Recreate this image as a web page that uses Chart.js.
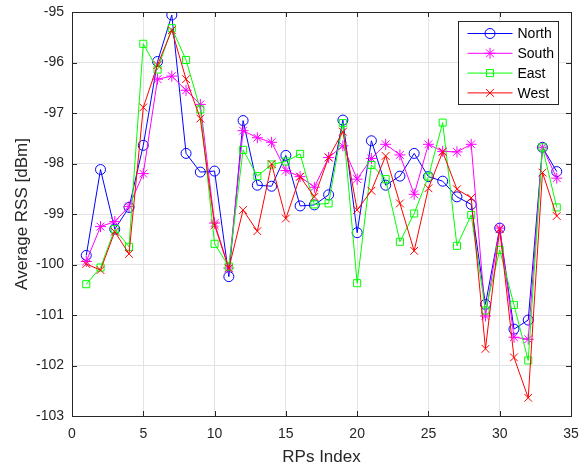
<!DOCTYPE html>
<html>
<head>
<meta charset="utf-8">
<script src="https://cdn.jsdelivr.net/npm/chart.js@4/dist/chart.umd.min.js"></script>
<style>
  html, body { margin: 0; padding: 0; background: #ffffff; }
  #wrap { width: 584px; height: 468px; }
</style>
</head>
<body>
<div id="wrap"><canvas id="c" width="584" height="468"></canvas></div>
<script>
const rpIndex = [1,2,3,4,5,6,7,8,9,10,11,12,13,14,15,16,17,18,19,20,21,22,23,24,25,26,27,28,29,30,31,32,33,34];
const seriesNames = ['North', 'South', 'East', 'West'];
const north = [-99.82,-98.12,-99.30,-98.87,-97.64,-95.98,-95.06,-97.80,-98.17,-98.15,-100.24,-97.15,-98.43,-98.45,-97.84,-98.84,-98.82,-98.62,-97.14,-99.37,-97.55,-98.43,-98.25,-97.80,-98.26,-98.35,-98.66,-98.81,-100.79,-99.28,-101.28,-101.10,-97.68,-98.16];
const south = [-99.94,-99.25,-99.15,-98.85,-98.20,-96.33,-96.27,-96.55,-96.83,-99.18,-100.07,-97.35,-97.49,-97.58,-98.14,-98.26,-98.47,-97.88,-97.65,-98.31,-97.90,-97.62,-97.83,-98.61,-97.62,-97.76,-97.77,-97.62,-101.02,-99.28,-101.44,-101.48,-97.68,-98.29];
const east  = [-100.39,-100.06,-99.30,-99.65,-95.63,-96.14,-95.32,-95.95,-96.93,-99.59,-100.04,-97.73,-98.25,-98.02,-97.96,-97.81,-98.81,-98.79,-97.20,-100.37,-98.03,-98.31,-99.55,-98.99,-98.26,-97.19,-99.63,-99.02,-100.91,-99.71,-100.80,-101.90,-97.68,-98.87];
const west  = [-99.99,-100.11,-99.35,-99.79,-96.89,-96.05,-95.36,-96.33,-97.11,-99.22,-100.08,-98.92,-99.34,-98.01,-99.09,-98.26,-98.66,-97.88,-97.37,-98.92,-98.54,-97.85,-98.79,-99.73,-98.49,-97.77,-98.51,-98.68,-101.67,-99.30,-101.84,-102.64,-98.18,-99.04];
const xTicks = [0,5,10,15,20,25,30,35];
const yTicks = [-103,-102,-101,-100,-99,-98,-97,-96,-95];

const colors = ['#0000ff', '#ff00ff', '#00ff00', '#ff0000'];
const styles = ['circle', 'star', 'rect', 'crossRot'];
const radii = [5, 5.5, 5, 5.5];
const values = [north, south, east, west];

const FONT = "'Liberation Sans', Arial, Helvetica, sans-serif";
const TXT = '#262626';

const datasets = values.map((v, i) => ({
  label: seriesNames[i],
  data: rpIndex.map((x, k) => ({ x: x, y: v[k] })),
  borderColor: colors[i],
  backgroundColor: 'rgba(0,0,0,0)',
  pointBorderColor: colors[i],
  pointBackgroundColor: 'rgba(0,0,0,0)',
  pointStyle: styles[i],
  pointRadius: radii[i],
  pointBorderWidth: 1,
  borderWidth: 1,
  tension: 0,
  order: 4 - i
}));

function drawMarker(ctx, style, r, x, y) {
  ctx.beginPath();
  if (style === 'circle') {
    ctx.arc(x, y, r, 0, Math.PI * 2);
  } else if (style === 'rect') {
    const s = r * Math.SQRT1_2;
    ctx.rect(x - s, y - s, 2 * s, 2 * s);
  } else if (style === 'crossRot' || style === 'star') {
    const d = r * Math.SQRT1_2;
    ctx.moveTo(x - d, y - d); ctx.lineTo(x + d, y + d);
    ctx.moveTo(x - d, y + d); ctx.lineTo(x + d, y - d);
    if (style === 'star') {
      ctx.moveTo(x - r, y); ctx.lineTo(x + r, y);
      ctx.moveTo(x, y - r); ctx.lineTo(x, y + r);
    }
  }
  ctx.stroke();
}

const framePlugin = {
  id: 'frame',
  afterDraw(chart) {
    const ctx = chart.ctx;
    const a = chart.chartArea;
    const xs = chart.scales.x, ys = chart.scales.y;
    ctx.save();
    ctx.strokeStyle = TXT;
    ctx.lineWidth = 1;
    ctx.beginPath();
    ctx.rect(Math.round(a.left) + 0.5, Math.round(a.top) + 0.5, Math.round(a.right - a.left), Math.round(a.bottom - a.top));
    ctx.stroke();
    const tl = 5;
    ctx.beginPath();
    xTicks.forEach(t => {
      const px = Math.round(xs.getPixelForValue(t)) + 0.5;
      ctx.moveTo(px, a.bottom); ctx.lineTo(px, a.bottom - tl);
      ctx.moveTo(px, a.top); ctx.lineTo(px, a.top + tl);
    });
    yTicks.forEach(t => {
      const py = Math.round(ys.getPixelForValue(t)) + 0.5;
      ctx.moveTo(a.left, py); ctx.lineTo(a.left + tl, py);
      ctx.moveTo(a.right, py); ctx.lineTo(a.right - tl, py);
    });
    ctx.stroke();

    const bw = 100, bh = 83;
    const bx = Math.round(a.right - 13 - bw) + 0.5;
    const by = Math.round(a.top + 9) + 0.5;
    ctx.fillStyle = '#ffffff';
    ctx.fillRect(bx, by, bw, bh);
    ctx.strokeStyle = TXT;
    ctx.strokeRect(bx, by, bw, bh);
    ctx.font = '14px ' + FONT;
    ctx.textBaseline = 'middle';
    ctx.textAlign = 'left';
    seriesNames.forEach((name, i) => {
      const ly = by + 12 + i * 19.8;
      ctx.strokeStyle = colors[i];
      ctx.lineWidth = 1;
      ctx.beginPath();
      ctx.moveTo(bx + 9, ly); ctx.lineTo(bx + 54, ly);
      ctx.stroke();
      drawMarker(ctx, styles[i], radii[i], bx + 31.5, ly);
      ctx.fillStyle = '#000000';
      ctx.fillText(name, bx + 59, ly + 1);
    });
    ctx.restore();
  }
};

new Chart(document.getElementById('c'), {
  type: 'line',
  data: { datasets: datasets },
  plugins: [framePlugin],
  options: {
    responsive: false,
    devicePixelRatio: 1,
    animation: false,
    layout: { padding: { top: 12, right: 13, left: 0, bottom: 0 } },
    plugins: { legend: { display: false }, tooltip: { enabled: false } },
    scales: {
      x: {
        type: 'linear', min: 0, max: 35,
        afterBuildTicks: s => { s.ticks = xTicks.map(v => ({ value: v })); },
        afterFit: s => { s.height = 52; s.paddingRight = 0; s.paddingLeft = 0; },
        ticks: { font: { family: FONT, size: 14 }, color: TXT, padding: 10, maxRotation: 0 },
        grid: { color: '#e3e3e3', lineWidth: 1, drawTicks: false },
        border: { display: true, color: TXT },
        title: { display: true, text: 'RPs Index', font: { family: FONT, size: 17 }, color: TXT, padding: { top: 0, bottom: 0 } }
      },
      y: {
        type: 'linear', min: -103, max: -95,
        afterBuildTicks: s => { s.ticks = yTicks.map(v => ({ value: v })); },
        afterFit: s => { s.width = 72; s.paddingTop = 0; s.paddingBottom = 0; },
        ticks: { font: { family: FONT, size: 14 }, color: TXT, padding: 8 },
        grid: { color: '#e3e3e3', lineWidth: 1, drawTicks: false },
        border: { display: true, color: TXT },
        title: { display: true, text: 'Average RSS [dBm]', font: { family: FONT, size: 17 }, color: TXT, padding: { top: 12, bottom: 0 } }
      }
    }
  }
});
</script>
</body>
</html>
